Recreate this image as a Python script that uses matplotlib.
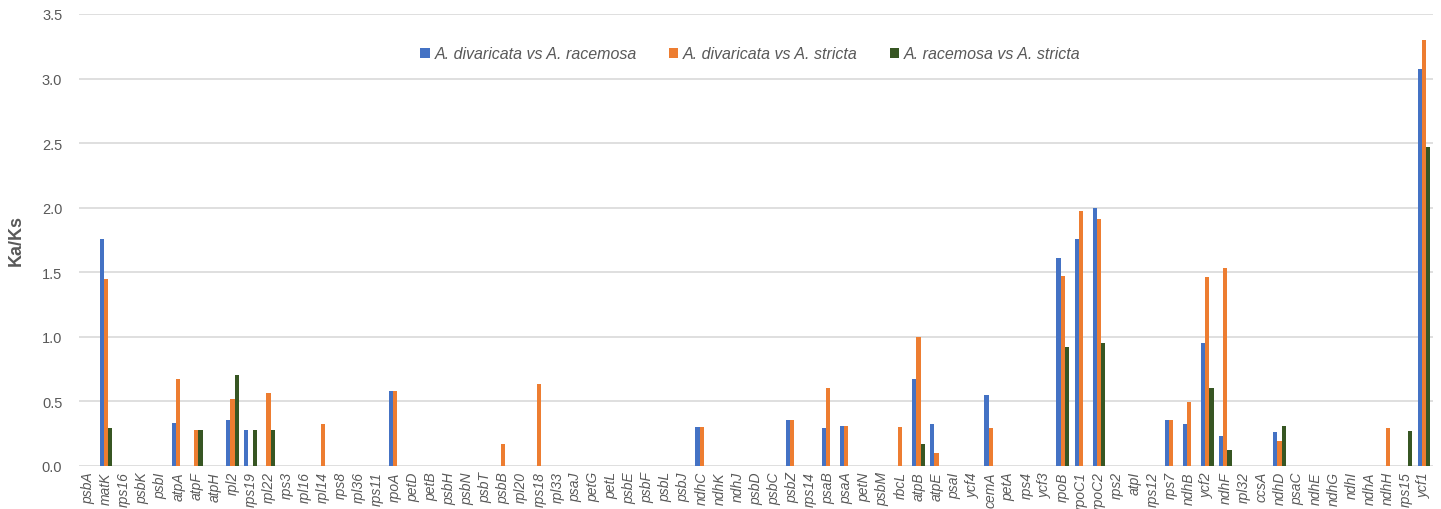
import numpy as np
import matplotlib
matplotlib.use("Agg")
import matplotlib.pyplot as plt

plt.rcParams['font.family'] = ['Liberation Sans', 'DejaVu Sans']

genes = ['psbA', 'matK', 'rps16', 'psbK', 'psbI', 'atpA', 'atpF', 'atpH', 'rpl2', 'rps19',
         'rpl22', 'rps3', 'rpl16', 'rpl14', 'rps8', 'rpl36', 'rps11', 'rpoA', 'petD', 'petB',
         'psbH', 'psbN', 'psbT', 'psbB', 'rpl20', 'rps18', 'rpl33', 'psaJ', 'petG', 'petL',
         'psbE', 'psbF', 'psbL', 'psbJ', 'ndhC', 'ndhK', 'ndhJ', 'psbD', 'psbC', 'psbZ',
         'rps14', 'psaB', 'psaA', 'petN', 'psbM', 'rbcL', 'atpB', 'atpE', 'psaI', 'ycf4',
         'cemA', 'petA', 'rps4', 'ycf3', 'rpoB', 'rpoC1', 'rpoC2', 'rps2', 'atpI', 'rps12',
         'rps7', 'ndhB', 'ycf2', 'ndhF', 'rpl32', 'ccsA', 'ndhD', 'psaC', 'ndhE', 'ndhG',
         'ndhI', 'ndhA', 'ndhH', 'rps15', 'ycf1']

# non-zero values only, everything else is 0
div_rac = {'matK': 1.76, 'atpA': 0.33, 'rpl2': 0.35, 'rps19': 0.28, 'rpoA': 0.58,
           'ndhC': 0.30, 'psbZ': 0.35, 'psaB': 0.29, 'psaA': 0.31, 'atpB': 0.67,
           'atpE': 0.32, 'cemA': 0.55, 'rpoB': 1.61, 'rpoC1': 1.76, 'rpoC2': 2.00,
           'rps7': 0.35, 'ndhB': 0.32, 'ycf2': 0.95, 'ndhF': 0.23, 'ndhD': 0.26,
           'ycf1': 3.07}
div_str = {'matK': 1.45, 'atpA': 0.67, 'atpF': 0.28, 'rpl2': 0.52, 'rpl22': 0.56,
           'rpl14': 0.32, 'rpoA': 0.58, 'psbB': 0.17, 'rps18': 0.63, 'ndhC': 0.30,
           'psbZ': 0.35, 'psaB': 0.60, 'psaA': 0.31, 'rbcL': 0.30, 'atpB': 1.00,
           'atpE': 0.10, 'cemA': 0.29, 'rpoB': 1.47, 'rpoC1': 1.97, 'rpoC2': 1.91,
           'rps7': 0.35, 'ndhB': 0.49, 'ycf2': 1.46, 'ndhF': 1.53, 'ndhD': 0.19,
           'ndhH': 0.29, 'ycf1': 3.30}
rac_str = {'matK': 0.29, 'atpF': 0.28, 'rpl2': 0.70, 'rps19': 0.28, 'rpl22': 0.28,
           'atpB': 0.17, 'rpoB': 0.92, 'rpoC2': 0.95, 'ycf2': 0.60, 'ndhF': 0.12,
           'ndhD': 0.31, 'rps15': 0.27, 'ycf1': 2.47}

series_names = ['A. divaricata vs A. racemosa', 'A. divaricata vs A. stricta',
                'A. racemosa vs A. stricta']
colors = ['#4472C4', '#ED7D31', '#375623']

x = np.arange(len(genes))
fig = plt.figure(figsize=(14.41, 5.10), dpi=100)
ax = fig.add_axes([0.0548, 0.085, 0.9396, 0.8856])

w = 0.235
for k, d in enumerate([div_rac, div_str, rac_str]):
    vals = [d.get(g, 0) for g in genes]
    ax.bar(x + (k - 1) * w, vals, width=w, color=colors[k], label=series_names[k], zorder=3)

ax.set_xlim(-0.5, len(genes) - 0.5)
ax.set_ylim(0, 3.5)
ax.set_yticks(np.arange(0, 3.51, 0.5))
ax.set_yticklabels(['%.1f' % v for v in np.arange(0, 3.51, 0.5)])
ax.grid(axis='y', color='#D9D9D9', linewidth=1.2, zorder=0)
for s in ax.spines.values():
    s.set_visible(False)
ax.tick_params(axis='both', length=0, colors='#595959')
ax.tick_params(axis='y', labelsize=10.5, pad=12)
ax.set_xticks(x)
ax.set_xticklabels(genes, rotation=90, fontstyle='italic', fontsize=10)
ax.tick_params(axis='x', pad=4)
ax.set_ylabel('Ka/Ks', fontsize=13, fontweight='bold', color='#595959', labelpad=12)

leg = ax.legend(loc='center', bbox_to_anchor=(0.496, 0.912), ncol=3, frameon=False,
                handlelength=0.6, handleheight=0.6, handletextpad=0.3, columnspacing=2.0,
                prop={'style': 'italic', 'size': 11.5})
for t in leg.get_texts():
    t.set_color('#595959')

fig.savefig('out.png', dpi=100)
